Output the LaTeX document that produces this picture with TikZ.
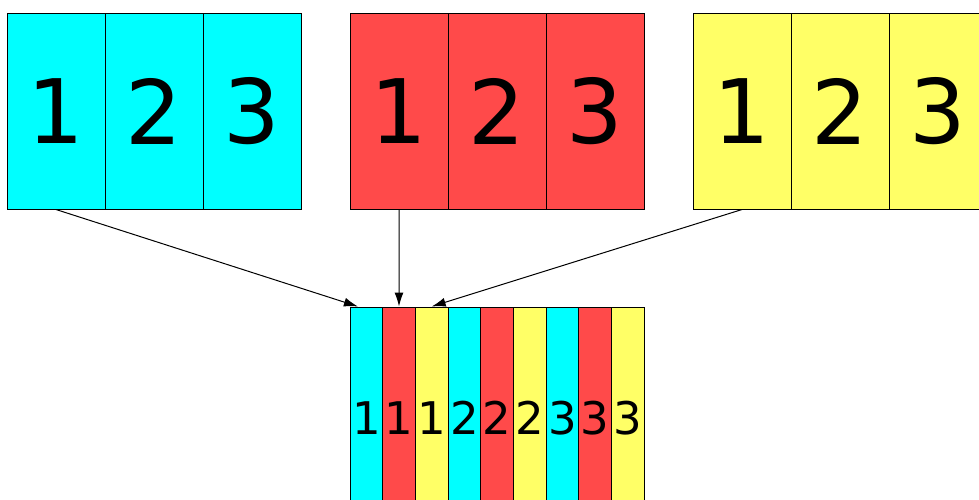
\documentclass[tikz,border=0pt]{standalone}
\usepackage{fontspec}
\setmainfont{DejaVu Sans}
\usetikzlibrary{calc,arrows.meta}
\definecolor{cellcyan}{HTML}{00FFFF}
\definecolor{cellred}{HTML}{FF4A4A}
\definecolor{cellyellow}{HTML}{FFFF66}
\begin{document}
\begin{tikzpicture}[x=0.5pt, y=-0.5pt,
  bigcell/.style={draw, line width=0.5pt, minimum width=49pt, minimum height=98pt, inner sep=0pt, font=\fontsize{44.5}{44.5}\selectfont},
  slimcell/.style={draw, line width=0.5pt, minimum width=16.33pt, minimum height=111pt, inner sep=0pt, font=\fontsize{22.5}{22.5}\selectfont},
  feed/.style={-{Latex[length=7pt,width=4.5pt]}, line width=0.5pt}]
  \useasboundingbox (0,0) rectangle (979,499);
  % source blocks
  \foreach \i in {1,2,3} {
    \node[bigcell, fill=cellcyan] (c\i) at ({56+98*(\i-1)},111) {\i};
    \node[bigcell, fill=cellred] (r\i) at ({399+98*(\i-1)},111) {\i};
    \node[bigcell, fill=cellyellow] (y\i) at ({742+98*(\i-1)},111) {\i};
  }
  % interleaved block
  \foreach \col/\lab [count=\k] in {cellcyan/1, cellred/1, cellyellow/1, cellcyan/2, cellred/2, cellyellow/2, cellcyan/3, cellred/3, cellyellow/3}
    \node[slimcell, fill=\col] (m\k) at ({350+32.67*(\k-0.5)},418) {\lab};
  \draw[feed] (c1.south) -- ($(m1.north west)!0.25!(m1.north east)$);
  \draw[feed] (r1.south) -- (m2.north);
  \draw[feed] (y1.south) -- (m3.north);
\end{tikzpicture}
\end{document}
